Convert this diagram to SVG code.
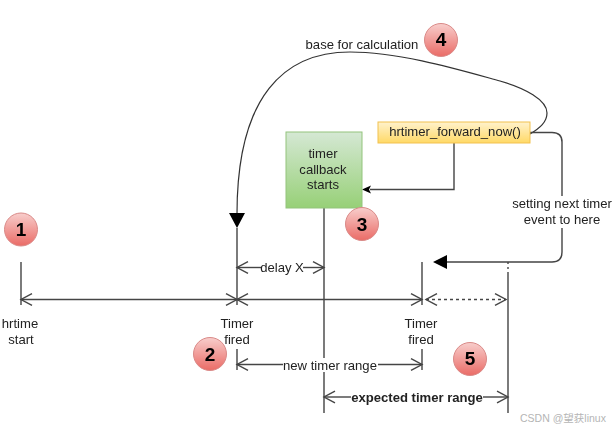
<svg xmlns="http://www.w3.org/2000/svg" width="615" height="429" viewBox="0 0 615 429">
<style>
text{font-family:"Liberation Sans",Arial,sans-serif;font-size:13.1px;fill:#222;text-anchor:middle}
.n{font-weight:bold;font-size:19px;fill:#000}
.b{font-weight:bold}
.l{fill:none;stroke:#444;stroke-width:1.4}
.o{fill:none;stroke:#444;stroke-width:1.4}
.c{stroke:#d98a88;stroke-width:1;fill:url(#red)}
</style>
<defs>
<linearGradient id="red" x1="0" y1="0" x2="0" y2="1"><stop offset="0" stop-color="#f8cecc"/><stop offset="1" stop-color="#ea6b66"/></linearGradient>
<linearGradient id="green" x1="0" y1="0" x2="0" y2="1"><stop offset="0" stop-color="#d5e8d4"/><stop offset="1" stop-color="#97d077"/></linearGradient>
<linearGradient id="yellow" x1="0" y1="0" x2="0" y2="1"><stop offset="0" stop-color="#fff2cc"/><stop offset="1" stop-color="#ffd966"/></linearGradient>
<marker id="open-end" markerUnits="userSpaceOnUse" markerWidth="14" markerHeight="14" refX="12" refY="7" orient="auto-start-reverse"><path d="M1 1.200L12 7L1 12.800" fill="none" stroke="#444" stroke-width="1.400"/></marker>
<filter id="soft" x="0" y="0" width="100%" height="100%"><feGaussianBlur stdDeviation="0.35"/></filter>
</defs>
<rect width="615" height="429" fill="#fff"/>
<g filter="url(#soft)">
<g id="connectors">
<path class="l" d="M21 262V305"/>
<path class="l" d="M237 228V305"/>
<path class="l" d="M422 262V305"/>
<path class="l" d="M324 208V358M324 372V413"/>
<path class="l" d="M508 272V413"/>
<path class="l" stroke-dasharray="2 3" d="M508 262V272"/>
<path class="l" d="M237 349V370"/>
<path class="l" d="M422 349V370"/>
<path class="o" marker-start="url(#open-end)" marker-end="url(#open-end)" d="M21 299.500H237"/>
<path class="o" marker-start="url(#open-end)" marker-end="url(#open-end)" d="M237 299.500H422"/>
<path class="o" stroke-dasharray="3 3" marker-start="url(#open-end)" marker-end="url(#open-end)" d="M426 299.500H506"/>
<path class="o" marker-start="url(#open-end)" d="M237 267.500H261"/>
<path class="o" marker-end="url(#open-end)" d="M303 267.500H324"/>
<path class="o" marker-start="url(#open-end)" d="M237 364.500H283"/>
<path class="o" marker-end="url(#open-end)" d="M378 364.500H422"/>
<path class="o" marker-start="url(#open-end)" d="M324 397H351"/>
<path class="o" marker-end="url(#open-end)" d="M483 397H508"/>
<path fill="none" stroke="#333" stroke-width="1.200" d="M530 134C540 128 547 122 547 113C547 100 525 88 500 81C460 70 400 52 350 52C285 52 237 95 237 214"/>
<path d="M229 213H245L237 228Z" fill="#000"/>
<path class="l" d="M454 143V189.500H370"/>
<path d="M362 189.500L371 185.500L369 189.500L371 193.500Z" fill="#000"/>
<path class="l" d="M530 132.500H552Q562 132.500 562 142V196M562 228V252Q562 262 552 262H446"/>
<path d="M433 262L447 255V269Z" fill="#000"/>
</g>
<g id="node-timer-callback"><rect x="286" y="132" width="76" height="76" fill="url(#green)" stroke="#93c47d"/>
<text x="323" y="158">timer</text><text x="323" y="174">callback</text><text x="323" y="189">starts</text></g>
<g id="node-forward"><rect x="378" y="122" width="152" height="21" fill="url(#yellow)" stroke="#f2c14e"/>
<text x="455" y="135.500">hrtimer_forward_now()</text></g>
<g id="badge-1"><circle class="c" cx="21" cy="229.500" r="16.500"/><text class="n" x="21" y="236">1</text></g>
<g id="badge-2"><circle class="c" cx="210" cy="354" r="16.500"/><text class="n" x="210" y="360.500">2</text></g>
<g id="badge-3"><circle class="c" cx="362" cy="224" r="16.500"/><text class="n" x="362" y="230.500">3</text></g>
<g id="badge-4"><circle class="c" cx="441" cy="40" r="16.500"/><text class="n" x="441" y="45.500">4</text></g>
<g id="badge-5"><circle class="c" cx="470" cy="359" r="16.500"/><text class="n" x="470" y="365">5</text></g>
<g id="labels">
<text x="20" y="328">hrtime</text><text x="21" y="344">start</text>
<text x="237" y="328">Timer</text><text x="237" y="344">fired</text>
<text x="421" y="328">Timer</text><text x="421" y="344">fired</text>
<text x="282" y="272">delay X</text>
<text x="330" y="369.500">new timer range</text>
<text class="b" x="417" y="402">expected timer range</text>
<text x="362" y="49">base for calculation</text>
<text x="562" y="208">setting next timer</text>
<text x="562" y="224">event to here</text>
</g>
</g>
<text x="563" y="422" style="font-size:10.500px;fill:#b5b5b5;font-family:'Liberation Sans','Noto Sans CJK SC',sans-serif">CSDN @望获linux</text>
</svg>
